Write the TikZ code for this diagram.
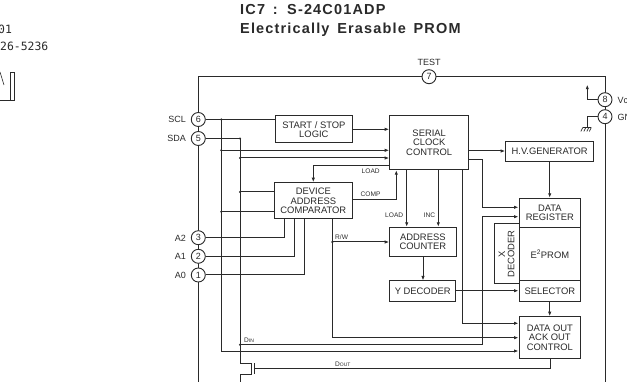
\documentclass[tikz,border=0pt]{standalone}
\usepackage{fontspec}
\setmainfont{Liberation Sans}
\setmonofont{DejaVu Sans Mono}
\newfontfamily\titlefont[LetterSpace=8,WordSpace=1.5]{Liberation Sans}
\usetikzlibrary{arrows.meta,calc}
\definecolor{ink}{HTML}{2A2A2A}
\tikzset{
  wire/.style={draw=ink,line width=1pt},
  arr/.style={wire,-{Latex[length=4.5pt,width=3.4pt]}},
  blockbox/.style={draw=ink,line width=1pt,fill=white,inner sep=0pt,align=center,font=\fontsize{9.4}{9.2}\selectfont,text=ink},
  pin/.style={circle,draw=ink,line width=0.9pt,fill=white,minimum size=14pt,inner sep=0pt,font=\fontsize{9}{9}\selectfont,text=ink},
  pinlabel/.style={font=\fontsize{9}{9}\selectfont,text=ink,inner sep=0pt},
  smalllabel/.style={font=\fontsize{6.6}{7}\selectfont,text=ink,inner sep=0pt},
  dot/.style={circle,fill=ink,minimum size=2.4pt,inner sep=0pt},
  titletext/.style={font=\titlefont\fontsize{14.5}{15}\bfseries\selectfont,text=ink,anchor=base west,inner sep=0pt},
  fragtext/.style={anchor=base west,inner sep=0pt,font=\ttfamily\fontsize{11.4}{11}\selectfont,text=ink}
}
\newcommand{\blocknode}[6]{\node[blockbox,minimum width=#4pt-#2pt,minimum height=#5pt-#3pt] (#1) at ({(#2+#4)/2},{(#3+#5)/2}) {#6};}
\begin{document}
\begin{tikzpicture}[x=1pt,y=-1pt]
\useasboundingbox (0,0) rectangle (627,382);
\clip (0,0) rectangle (627,382);
% left page fragment
\node[fragtext] (frag1) at (-2,33.5) {01};
\node[fragtext] (frag2) at (0,51) {26-5236};
\draw[ink,line width=0.8pt] (-2,100) -- (14.7,100) -- (14.7,72) -- (10.5,72) -- (10.5,100);
\draw[ink,line width=0.6pt] (0,72) -- (4,85);
% title
\node[titletext] (t1) at (240,14.8) {IC7 : S-24C01ADP};
\node[titletext] (t2) at (240,33.2) {Electrically Erasable PROM};
% frame coordinates
\coordinate (fbl) at (198.3,383);
\coordinate (ftl) at (198.3,76.7);
\coordinate (ftr) at (605,76.7);
\coordinate (fbr) at (605,383);
\draw[wire] (fbl) -- (ftl) -- (ftr) -- (fbr);
% pins
\node[pin] (p6) at (198.3,119.5) {6};
\node[pin] (p5) at (198.3,138.5) {5};
\node[pin] (p3) at (198.3,237.7) {3};
\node[pin] (p2) at (198.3,256.3) {2};
\node[pin] (p1) at (198.3,275) {1};
\node[pin] (p7) at (429,76.7) {7};
\node[pin] (p8) at (605,99.7) {8};
\node[pin] (p4) at (605,116.7) {4};
\node[pinlabel,anchor=east] (lscl) at (186,119.5) {SCL};
\node[pinlabel,anchor=east] (lsda) at (186,138.5) {SDA};
\node[pinlabel,anchor=east] (la2) at (186,238) {A2};
\node[pinlabel,anchor=east] (la1) at (186,256.5) {A1};
\node[pinlabel,anchor=east] (la0) at (186,275.5) {A0};
\node[pinlabel] (ltest) at (429,62.5) {TEST};
\node[pinlabel,anchor=west] (lvcc) at (617.5,100) {Vcc};
\node[pinlabel,anchor=west] (lgnd) at (617.5,117) {GND};
% blocks
\blocknode{start}{275}{115.7}{352.7}{143}{START / STOP\\LOGIC}
\blocknode{serial}{389.7}{115.7}{468.7}{169.7}{SERIAL\\CLOCK\\CONTROL}
\blocknode{hv}{505.7}{141.3}{593.7}{161.3}{H.V.GENERATOR}
\blocknode{dev}{274.7}{182.7}{352}{219}{DEVICE\\ADDRESS\\COMPARATOR}
\blocknode{reg}{519}{198.3}{580.7}{227.7}{DATA\\REGISTER}
\blocknode{prom}{519}{227.7}{580.7}{280.3}{E\textsuperscript{2}PROM}
\blocknode{sel}{519}{280.3}{580.7}{302}{SELECTOR}
\blocknode{xdec}{494.3}{227.7}{519}{280.3}{\rotatebox{90}{\parbox{60pt}{\centering X\\DECODER}}}
\blocknode{out}{519}{316.7}{580.7}{358.7}{DATA OUT\\ACK OUT\\CONTROL}
\blocknode{cnt}{389.7}{227.3}{456}{256.3}{ADDRESS\\COUNTER}
\blocknode{ydec}{389.7}{281}{455.7}{301.3}{Y DECODER}
% coordinates of junctions
\coordinate (j1) at (221.3,119.5);
\coordinate (j2) at (240,138.5);
\coordinate (rw) at (332.3,242);
\coordinate (din) at (240,344.7);
\coordinate (gtop) at (251.3,363);
\coordinate (gbot) at (251.3,374);
% SCL / SDA
\draw[wire] (p6) -- (start.west |- p6);
\draw[wire] (p5) -- (j2);
\draw[wire] (j1) -- (221.3,351);
\draw[arr] (221.3,351) -- (out.west |- 0,351);
\draw[wire] (j2) -- (240,363) -- (gtop) -- (gbot) -- (240,374) -- (240,383);
\draw[arr] (221.3,150.3) -- (serial.west |- 0,150.3);
\draw[arr] (240,158) -- (serial.west |- 0,158);
\draw[wire] (240,192) -- (dev.west |- 0,192);
\draw[wire] (221.3,211.7) -- (dev.west |- 0,211.7);
% Din
\draw[arr] (din) -- (482.7,344.7) -- (482.7,216.7) -- (reg.west |- 0,216.7);
% Dout
\draw[wire] (254.3,363) -- (254.3,374);
\draw[wire] (254.3,368) -- (550,368) -- (out.south -| 550,0);
% logic
\draw[arr] (start.east |- 0,129.3) -- (serial.west |- 0,129.3);
\draw[arr] (serial.west |- 0,165.7) -- (313.3,165.7) -- (dev.north -| 313.3,0);
\draw[arr] (dev.east |- 0,199.3) -- (396.3,199.3) -- (serial.south -| 396.3,0);
\draw[wire] (p3) -- (284.7,237.7) -- (dev.south -| 284.7,0);
\draw[wire] (p2) -- (294.3,256.3) -- (dev.south -| 294.3,0);
\draw[wire] (p1) -- (304,275) -- (dev.south -| 304,0);
\draw[arr] (dev.south -| 332.3,0) -- (332.3,337.7) -- (out.west |- 0,337.7);
\draw[arr] (rw) -- (cnt.west |- rw);
\draw[arr] (serial.south -| 406.7,0) -- (cnt.north -| 406.7,0);
\draw[arr] (serial.south -| 438.3,0) -- (cnt.north -| 438.3,0);
\draw[arr] (serial.south -| 462.7,0) -- (462.7,323.3) -- (out.west |- 0,323.3);
\draw[arr] (serial.east |- 0,151) -- (hv.west |- 0,151);
\draw[arr] (serial.east |- 0,159.7) -- (482.7,159.7) -- (482.7,207.3) -- (reg.west |- 0,207.3);
\draw[arr] (hv.south -| 549.7,0) -- (reg.north -| 549.7,0);
\draw[arr] (cnt.south -| 423,0) -- (ydec.north -| 423,0);
\draw[arr] (ydec.east |- 0,290.7) -- (sel.west |- 0,290.7);
\draw[arr] (sel.south -| 549.7,0) -- (out.north -| 549.7,0);
% supply
\draw[arr] (p8) -- (587.3,99.7) -- (587.3,84.7);
\draw[wire] (p4) -- (587.3,116.7) -- (587.3,127.5);
\coordinate (gnd) at (587.3,127.5);
\draw[ink,line width=0.7pt] ($(gnd)+(-4.5,0)$) -- ($(gnd)+(4,0)$);
\foreach \d in {-3.5,-0.5,2.5,5}{\draw[ink,line width=0.6pt] ($(gnd)+(\d-1,0)$) -- ($(gnd)+(\d-3,4)$);}
% dots
\foreach \p in {j1,j2,din,rw}{\node[dot] at (\p) {};}
\node[dot] at (221.3,150.3) {};
\node[dot] at (240,158) {};
\node[dot] at (240,192) {};
\node[dot] at (221.3,211.7) {};
% small labels
\node[smalllabel,anchor=west] (lload) at (361.5,171.5) {LOAD};
\node[smalllabel,anchor=west] (lcomp) at (360.5,194.5) {COMP};
\node[smalllabel,anchor=west] (lload3) at (385,215.5) {LOAD};
\node[smalllabel,anchor=west] (linc) at (423.5,215.5) {INC};
\node[smalllabel,anchor=west] (lrw) at (335,237.5) {R/W};
\node[smalllabel,anchor=west] (ldin) at (244,340.5) {D\fontsize{5}{5}\selectfont IN};
\node[smalllabel,anchor=west] (ldout) at (335,364.5) {D\fontsize{5}{5}\selectfont OUT};
\end{tikzpicture}
\end{document}
